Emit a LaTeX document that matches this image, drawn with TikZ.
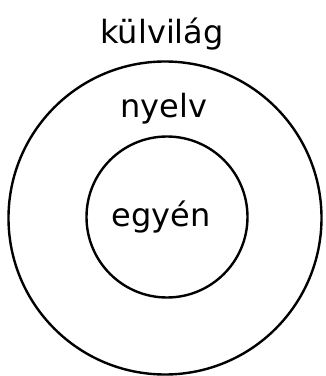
\documentclass[tikz,border=0pt]{standalone}
\usepackage{fontspec}
\setmainfont{DejaVu Sans}
\begin{document}
\begin{tikzpicture}[x=1pt,y=1pt,
  ring/.style={draw=black, line width=2.4pt, circle},
  lbl/.style={font=\fontsize{32}{36}\selectfont, inner sep=0pt}]
\useasboundingbox (0,0) rectangle (325,376);
\node[ring, minimum size=313pt, inner sep=0pt] (outer) at (165,158) {};
\node[ring, minimum size=161pt, inner sep=0pt] (inner) at (167,159) {};
\node[lbl] (kulvilag) at (162,342) {külvilág};
\node[lbl] (nyelv) at (164,267) {nyelv};
\node[lbl] (egyen) at (161,159) {egyén};
\end{tikzpicture}
\end{document}
